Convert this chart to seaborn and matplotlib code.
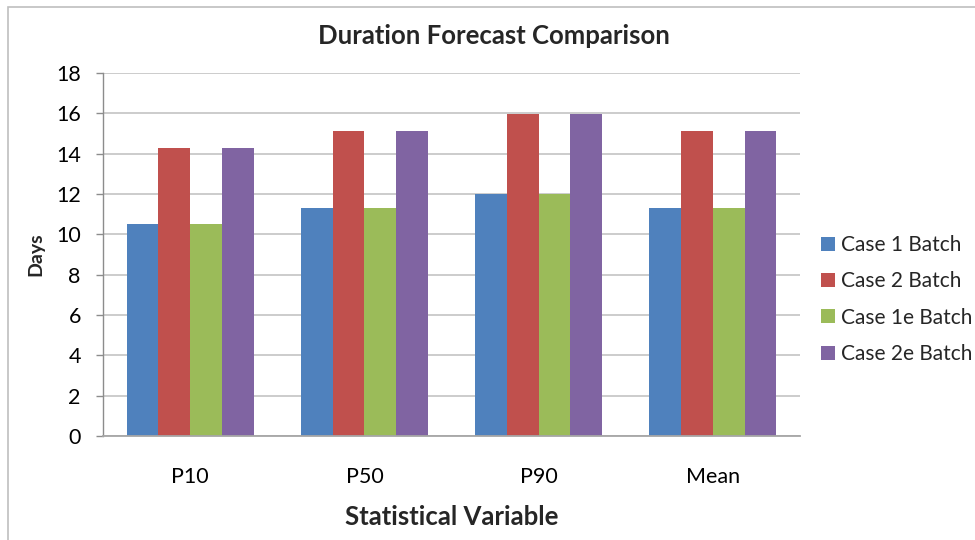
import matplotlib
matplotlib.use("Agg")
import matplotlib.pyplot as plt
import seaborn as sns
import pandas as pd
from matplotlib.patches import Rectangle

# Data
categories = ["P10", "P50", "P90", "Mean"]
series_names = ["Case 1 Batch", "Case 2 Batch", "Case 1e Batch", "Case 2e Batch"]
case1 = [10.5, 11.3, 12.0, 11.3]
case2 = [14.3, 15.1, 15.95, 15.1]
case1e = [10.5, 11.3, 12.0, 11.3]
case2e = [14.3, 15.1, 15.95, 15.1]
y_ticks = [0, 2, 4, 6, 8, 10, 12, 14, 16, 18]

colors = ["#4F81BD", "#C0504D", "#9BBB59", "#8064A2"]

rows = []
for name, vals in zip(series_names, [case1, case2, case1e, case2e]):
    for cat, v in zip(categories, vals):
        rows.append({"Statistical Variable": cat, "Days": v, "Series": name})
df = pd.DataFrame(rows)

sns.set_theme(style="white")
plt.rcParams["font.family"] = ["Lato", "DejaVu Sans"]

fig = plt.figure(figsize=(9.75, 5.4), dpi=100)
ax = fig.add_axes([103 / 975, 1 - 436 / 540, (800 - 103) / 975, (436 - 73) / 540])

sns.barplot(data=df, x="Statistical Variable", y="Days", hue="Series",
            order=categories, hue_order=series_names, palette=colors,
            width=0.73, saturation=1, edgecolor="none", linewidth=0, ax=ax)

ax.set_ylim(0, 18)
ax.set_xlim(-0.5, len(categories) - 0.5)
ax.set_yticks(y_ticks)
ax.set_yticklabels([str(t) for t in y_ticks])
ax.yaxis.grid(True, color="#C8C8C8", linewidth=1.3)
ax.set_axisbelow(True)

for side in ["top", "right"]:
    ax.spines[side].set_visible(False)
ax.spines["left"].set_color("#8C8C8C")
ax.spines["bottom"].set_color("#A6A6A6")
ax.spines["left"].set_linewidth(1.0)
ax.spines["bottom"].set_linewidth(1.3)

ax.tick_params(axis="y", which="major", left=True, length=5, width=1.0,
               color="#8C8C8C", pad=11, labelsize=15.5, labelcolor="black")
ax.tick_params(axis="x", which="major", bottom=False, length=0, pad=22,
               labelsize=15.5, labelcolor="black")

ax.set_xlabel("Statistical Variable", fontsize=18.5, fontweight="bold", labelpad=13)
ax.set_ylabel("Days", fontsize=14, fontweight="bold", labelpad=8)

fig.suptitle("Duration Forecast Comparison", x=494 / 975, y=1 - 36 / 540,
             va="center", fontsize=18.5, fontweight="bold")

leg = ax.legend(loc="center left", bbox_to_anchor=(821 / 975, 1 - 299.5 / 540),
                bbox_transform=fig.transFigure, frameon=False, fontsize=15,
                handlelength=0.66, handleheight=0.66, handletextpad=0.3,
                labelspacing=0.78, borderaxespad=0, borderpad=0)

# Outer chart border
fig.patches.append(Rectangle((8 / 975, -0.05), 1.2, 1 - 7 / 540 + 0.05,
                             transform=fig.transFigure, fill=False,
                             edgecolor="#BFBFBF", linewidth=1.2))

fig.savefig("out.png", dpi=100)
